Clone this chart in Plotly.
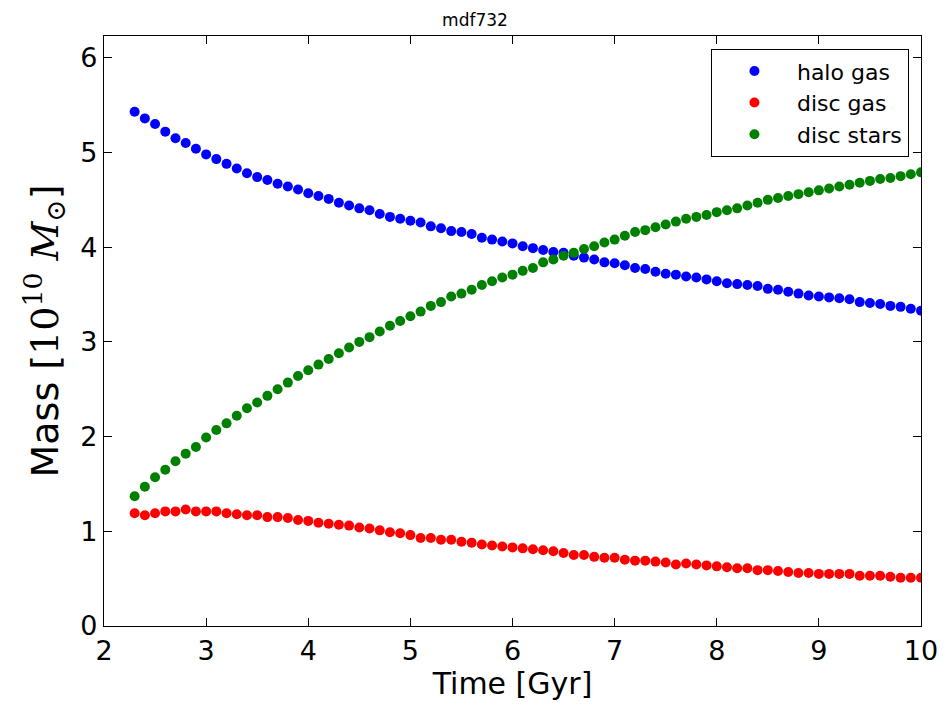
import plotly.graph_objects as go

time_gyr = [2.3, 2.4, 2.5, 2.6, 2.7, 2.8, 2.9, 3.0, 3.1, 3.2, 3.3, 3.4, 3.5, 3.6, 3.7, 3.8, 3.9,
            4.0, 4.1, 4.2, 4.3, 4.4, 4.5, 4.6, 4.7, 4.8, 4.9, 5.0, 5.1, 5.2, 5.3, 5.4, 5.5, 5.6,
            5.7, 5.8, 5.9, 6.0, 6.1, 6.2, 6.3, 6.4, 6.5, 6.6, 6.7, 6.8, 6.9, 7.0, 7.1, 7.2, 7.3,
            7.4, 7.5, 7.6, 7.7, 7.8, 7.9, 8.0, 8.1, 8.2, 8.3, 8.4, 8.5, 8.6, 8.7, 8.8, 8.9, 9.0,
            9.1, 9.2, 9.3, 9.4, 9.5, 9.6, 9.7, 9.8, 9.9, 10.0]

halo_gas = [5.43, 5.36, 5.30, 5.22, 5.15, 5.10, 5.04, 4.98, 4.93, 4.88, 4.83, 4.78, 4.74, 4.71,
            4.67, 4.64, 4.61, 4.57, 4.54, 4.51, 4.47, 4.44, 4.41, 4.39, 4.35, 4.32, 4.30, 4.28,
            4.26, 4.22, 4.20, 4.17, 4.16, 4.14, 4.10, 4.08, 4.06, 4.04, 4.01, 3.99, 3.97, 3.95,
            3.94, 3.91, 3.89, 3.87, 3.84, 3.83, 3.81, 3.78, 3.77, 3.74, 3.72, 3.71, 3.69, 3.68,
            3.66, 3.64, 3.62, 3.61, 3.60, 3.59, 3.56, 3.55, 3.53, 3.51, 3.49, 3.48, 3.47, 3.46,
            3.45, 3.42, 3.41, 3.40, 3.38, 3.37, 3.35, 3.33]

disc_gas = [1.19, 1.17, 1.19, 1.21, 1.21, 1.23, 1.21, 1.21, 1.21, 1.19, 1.18, 1.17, 1.17, 1.15,
            1.15, 1.14, 1.12, 1.11, 1.09, 1.08, 1.07, 1.06, 1.04, 1.03, 1.01, 0.99, 0.98, 0.96,
            0.93, 0.93, 0.91, 0.91, 0.89, 0.88, 0.86, 0.85, 0.84, 0.83, 0.82, 0.81, 0.80, 0.79,
            0.77, 0.75, 0.75, 0.73, 0.72, 0.72, 0.70, 0.69, 0.69, 0.68, 0.67, 0.65, 0.66, 0.65,
            0.64, 0.63, 0.62, 0.61, 0.61, 0.59, 0.59, 0.58, 0.57, 0.56, 0.56, 0.55, 0.55, 0.55,
            0.55, 0.53, 0.53, 0.53, 0.52, 0.51, 0.51, 0.51]

disc_stars = [1.37, 1.47, 1.57, 1.65, 1.74, 1.82, 1.89, 1.99, 2.07, 2.14, 2.22, 2.30, 2.36, 2.43,
              2.50, 2.57, 2.64, 2.70, 2.76, 2.82, 2.88, 2.94, 3.00, 3.05, 3.11, 3.17, 3.22, 3.27,
              3.32, 3.38, 3.42, 3.48, 3.51, 3.55, 3.60, 3.64, 3.68, 3.71, 3.75, 3.78, 3.84, 3.87,
              3.91, 3.94, 3.98, 4.01, 4.05, 4.08, 4.12, 4.16, 4.18, 4.21, 4.24, 4.27, 4.30, 4.32,
              4.34, 4.37, 4.39, 4.41, 4.44, 4.47, 4.50, 4.52, 4.54, 4.56, 4.58, 4.60, 4.62, 4.64,
              4.66, 4.68, 4.70, 4.72, 4.73, 4.75, 4.77, 4.79]

series_names = ["halo gas", "disc gas", "disc stars"]
series_values = [halo_gas, disc_gas, disc_stars]
series_colors = ["#0000ff", "#ff0000", "#008000"]

x_ticks = [2, 3, 4, 5, 6, 7, 8, 9, 10]
y_ticks = [0, 1, 2, 3, 4, 5, 6]

FONT = "DejaVu Sans"

fig = go.Figure()
for name, vals, col in zip(series_names, series_values, series_colors):
    fig.add_trace(go.Scatter(
        x=time_gyr, y=vals, mode="markers", name=name,
        marker=dict(color=col, size=10, line=dict(width=0)),
        cliponaxis=True,
    ))

axis_common = dict(
    showgrid=False, zeroline=False, showline=True, linecolor="black", linewidth=1.2,
    mirror="ticks", ticks="inside", ticklen=8, tickwidth=1, tickcolor="black",
    tickfont=dict(family=FONT, size=27, color="black"),
)

fig.update_layout(
    width=950, height=712,
    paper_bgcolor="white", plot_bgcolor="white",
    margin=dict(l=104, r=25, t=36, b=86),
    title=dict(text="mdf732", x=0.5, xanchor="center", y=0.972, yanchor="middle",
               font=dict(family=FONT, size=17, color="black")),
    xaxis=dict(range=[2, 10], tickvals=x_ticks, ticktext=[str(v) for v in x_ticks],
               title=dict(text="Time [Gyr]", font=dict(family=FONT, size=30, color="black"),
                          standoff=8),
               **axis_common),
    yaxis=dict(range=[0, 6.23], tickvals=y_ticks, ticktext=[str(v) for v in y_ticks],
               title=dict(text="Mass [<span style='font-family:DejaVu Serif'>10<sup>10</sup> <i>M</i><sub>⊙</sub></span>]",
                          font=dict(family=FONT, size=38, color="black"), standoff=10),
               **axis_common),
    legend=dict(x=0.985, y=0.978, xanchor="right", yanchor="top",
                bordercolor="black", borderwidth=1.2, bgcolor="white",
                font=dict(family=FONT, size=22, color="black"),
                itemwidth=75),
    showlegend=True,
)

fig.write_html("out.html")
